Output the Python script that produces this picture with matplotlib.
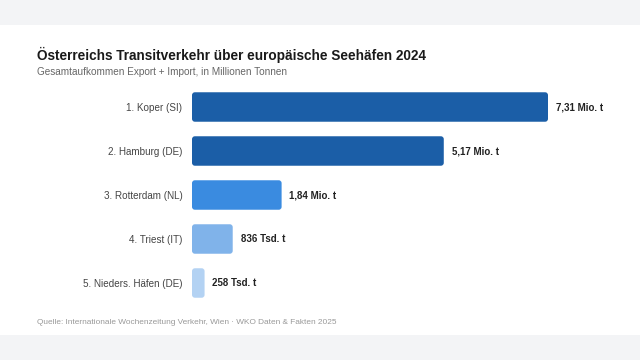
import matplotlib.pyplot as plt
from matplotlib.patches import Rectangle, FancyBboxPatch

plt.rcParams['font.family'] = ['Liberation Sans', 'DejaVu Sans']

# Daten
ports = ['1. Koper (SI)', '2. Hamburg (DE)', '3. Rotterdam (NL)', '4. Triest (IT)', '5. Nieders. Häfen (DE)']
values = [7.31, 5.17, 1.84, 0.836, 0.258]
labels = ['7,31 Mio. t', '5,17 Mio. t', '1,84 Mio. t', '836 Tsd. t', '258 Tsd. t']
colors = ['#1b5ea7', '#1b5ea7', '#3a8be0', '#80b3ea', '#b3d2f3']

fig = plt.figure(figsize=(6.4, 3.6), dpi=100)
fig.patch.set_facecolor('#f3f4f6')
# weisse Karte
fig.patches.append(Rectangle((0, 25 / 360), 1, 310 / 360, transform=fig.transFigure,
                             facecolor='white', edgecolor='none', zorder=-5))

ax = fig.add_axes([192 / 640, 1 - 305 / 360, 408 / 640, 220 / 360])
ax.set_facecolor('none')

pos = list(range(len(ports)))
bars = ax.barh(pos, values, height=0.67, color=colors)

# Balken mit abgerundeten Ecken ersetzen
for b, c in zip(bars, colors):
    x, y = b.get_x(), b.get_y()
    w, h = b.get_width(), b.get_height()
    b.set_visible(False)
    ax.add_patch(FancyBboxPatch((x, y), w, h, boxstyle='round,pad=0,rounding_size=0.06',
                                mutation_aspect=1.1, facecolor=c, edgecolor='none'))

ax.set_xlim(0, 408 / 48.7)
ax.set_ylim(len(ports) - 0.5, -0.5)

for i, (v, t) in enumerate(zip(values, labels)):
    ax.text(v + 0.16, i, t, ha='left', va='center', fontsize=7.0, fontweight='bold', color='#222222')

ax.set_yticks(pos)
ax.set_yticklabels(ports, fontsize=7.1, color='#444444')
ax.tick_params(axis='y', length=0, pad=7)
ax.set_xticks([])
for s in ax.spines.values():
    s.set_visible(False)

fig.text(37 / 640, 1 - 55 / 360, 'Österreichs Transitverkehr über europäische Seehäfen 2024',
         fontsize=9.85, fontweight='bold', color='#1a1a1a', va='center')
fig.text(37 / 640, 1 - 72 / 360, 'Gesamtaufkommen Export + Import, in Millionen Tonnen',
         fontsize=7.2, color='#666666', va='center')
fig.text(37 / 640, 1 - 322 / 360, 'Quelle: Internationale Wochenzeitung Verkehr, Wien · WKO Daten & Fakten 2025',
         fontsize=5.97, color='#999999', va='center')

fig.savefig('out.png', dpi=100)
